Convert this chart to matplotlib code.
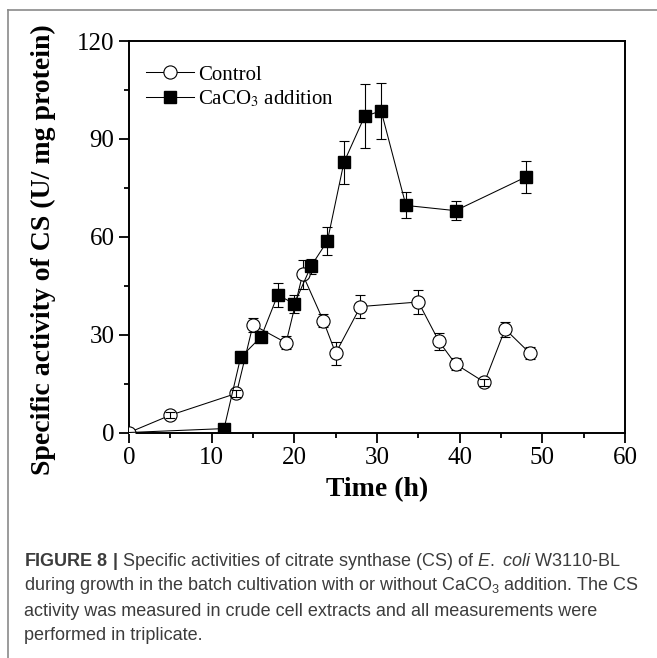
import numpy as np
import matplotlib
matplotlib.use("Agg")
import matplotlib.pyplot as plt
from matplotlib.lines import Line2D
from matplotlib.ticker import MultipleLocator

# Control (no CaCO3)
ctrl_t = [0, 5, 13, 15, 19, 21, 23.5, 25, 28, 35, 37.5, 39.5, 43, 45.5, 48.5]
ctrl_cs = [0, 5.3, 12, 33, 27.5, 48.5, 34.3, 24.3, 38.6, 40, 27.9, 21, 15.4, 31.7, 24.3]
ctrl_err = [0, 1, 1, 2.2, 2, 4.5, 2, 3.5, 3.5, 3.7, 2.5, 1.8, 1, 2.3, 1.8]

# CaCO3 addition
caco3_t = [0, 11.5, 13.5, 16, 18, 20, 22, 24, 26, 28.5, 30.5, 33.5, 39.5, 48]
caco3_cs = [0, 1.2, 23, 29.4, 42.2, 39.4, 50.9, 58.7, 82.8, 96.9, 98.6, 69.6, 68, 78.3]
caco3_err = [0, 0.5, 1.5, 1.5, 3.6, 2.8, 2.2, 4.3, 6.5, 9.8, 8.5, 4, 3, 5]

plt.rcParams["font.family"] = ["Liberation Serif", "DejaVu Serif"]
plt.rcParams["mathtext.fontset"] = "custom"
plt.rcParams["mathtext.rm"] = "Liberation Sans"
plt.rcParams["mathtext.it"] = "Liberation Sans:italic"
plt.rcParams["mathtext.bf"] = "Liberation Sans:bold"

W, H = 657, 658
fig = plt.figure(figsize=(W / 100, H / 100), dpi=100)
ax = fig.add_axes([129 / W, 1 - 432.5 / H, 496 / W, 391.5 / H])

# error bars under the markers
ax.errorbar(ctrl_t, ctrl_cs, yerr=ctrl_err, fmt="none", ecolor="black",
            elinewidth=0.8, capsize=3.6, capthick=0.8, zorder=2)
ax.errorbar(caco3_t, caco3_cs, yerr=caco3_err, fmt="none", ecolor="black",
            elinewidth=0.8, capsize=3.6, capthick=0.8, zorder=2)

ax.plot(ctrl_t, ctrl_cs, color="black", lw=0.75, marker="o", ms=9.5,
        mfc="white", mec="black", mew=0.8, label="Control", zorder=3)
ax.plot(caco3_t, caco3_cs, color="black", lw=0.75, marker="s", ms=8,
        mfc="black", mec="black", markevery=slice(1, None),
        label="CaCO$_3$ addition", zorder=4)

# small errors show as caps inside the open circles
small = np.array(ctrl_err) <= 1.2
small[0] = False
ax.errorbar(np.array(ctrl_t)[small], np.array(ctrl_cs)[small],
            yerr=np.array(ctrl_err)[small], fmt="none", ecolor="black",
            elinewidth=0.8, capsize=3.6, capthick=0.8, zorder=3.5)

ax.set_xlim(0, 60)
ax.set_ylim(0, 120)
ax.xaxis.set_major_locator(MultipleLocator(10))
ax.xaxis.set_minor_locator(MultipleLocator(5))
ax.yaxis.set_major_locator(MultipleLocator(30))
ax.yaxis.set_minor_locator(MultipleLocator(15))
ax.tick_params(which="both", direction="out", width=1.3, top=False, right=False,
               labelsize=18)
ax.tick_params(which="major", length=7.5, pad=3)
ax.tick_params(which="minor", length=3.7)
for s in ax.spines.values():
    s.set_linewidth(1.4)

ax.set_xlabel("Time (h)", fontsize=20, fontweight="bold", labelpad=6)
fig.text(43 / W, 1 - 250 / H, "Specific activity of CS (U/ mg protein)",
         rotation=90, ha="center", va="center", fontsize=20, fontweight="bold")

leg = ax.legend(loc="upper left", bbox_to_anchor=(146 / W, 1 - 65 / H),
                bbox_transform=fig.transFigure, frameon=False, fontsize=15,
                borderpad=0, borderaxespad=0, handlelength=2.3,
                handletextpad=0.2, labelspacing=0.2)
leg.get_texts()[1].set_math_fontfamily("stix")

# frame lines of the figure panel
fig.add_artist(Line2D([8 / W, 1], [1 - 10 / H, 1 - 10 / H], color="#8a8a8a", lw=1.2))
fig.add_artist(Line2D([8 / W, 8 / W], [0, 1 - 10 / H], color="#8a8a8a", lw=1.2))

caption = [
    r"$\mathbf{FIGURE\ 8\ |}$ Specific activities of citrate synthase (CS) of $\mathit{E.\ coli}$ W3110-BL",
    r"during growth in the batch cultivation with or without CaCO$_3$ addition. The CS",
    "activity was measured in crude cell extracts and all measurements were",
    "performed in triplicate.",
]
for i, line in enumerate(caption):
    fig.text(24 / W, 1 - (561 + 25 * i) / H, line, family="Liberation Sans",
             fontsize=13, color="#3c3c3c", ha="left", va="center")

fig.savefig("out.png", dpi=100)
